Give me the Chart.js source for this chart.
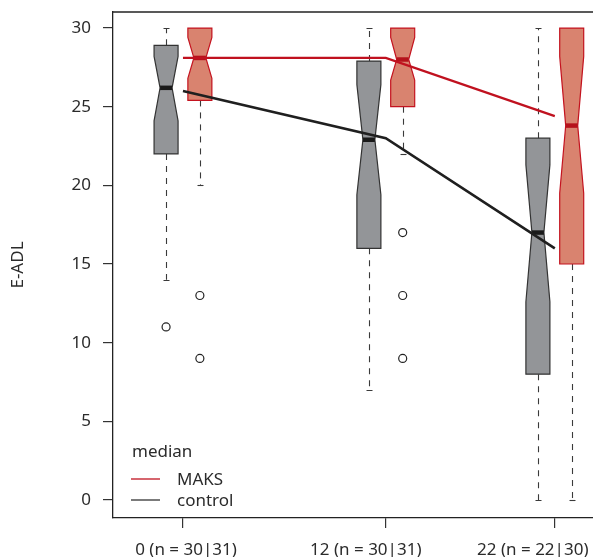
<!DOCTYPE html>
<html>
<head>
<meta charset="utf-8">
<script src="https://cdn.jsdelivr.net/npm/chart.js@4"></script>
<style>
  body { margin: 0; background: #fff; }
  canvas { display: block; }
</style>
</head>
<body>
<canvas id="myChart" width="593" height="557"></canvas>
<script>
// data
const months = [0, 12, 22];
const tickLabels = ['0 (n = 30|31)', '12 (n = 30|31)', '22 (n = 22|30)'];
const yTicks = [0, 5, 10, 15, 20, 25, 30];

// control group - grey boxes
const ctrlWhiskerLo = [14, 7, 0];
const ctrlQ1 = [22, 16, 8];
const ctrlNotchLo = [24.1, 19.4, 12.6];
const ctrlMedian = [26.2, 22.9, 17.0];
const ctrlNotchHi = [28.2, 26.4, 21.3];
const ctrlQ3 = [28.9, 27.9, 23.0];
const ctrlWhiskerHi = [30, 30, 30];
const ctrlOutliers = [[11], [], []];
const ctrlMedianLine = [26.0, 23.0, 16.0];

// MAKS group - red boxes
const maksWhiskerLo = [20, 22, 0];
const maksQ1 = [25.4, 25.0, 15.0];
const maksNotchLo = [26.8, 26.7, 19.5];
const maksMedian = [28.1, 28.0, 23.8];
const maksNotchHi = [29.4, 29.4, 28.2];
const maksQ3 = [30, 30, 30];
const maksWhiskerHi = [30, 30, 30];
const maksOutliers = [[13, 9], [17, 13, 9], []];
const maksMedianLine = [28.1, 28.1, 24.4];

// styles
const FONT = "'Noto Sans', 'DejaVu Sans', sans-serif";
const TXT = '#2b2b2b';
const RED = '#c0111f';
const GREY_FILL = '#939598';
const RED_FILL = '#d9836f';
const GROUP_OFFSET = 1;   // boxes sit one month left / right of the tick
const BOX_W = 24;
const LABEL_SHIFT = [3, -20, -22];

const groups = [
  {off: -GROUP_OFFSET, lo: ctrlWhiskerLo, q1: ctrlQ1, nlo: ctrlNotchLo, med: ctrlMedian, nhi: ctrlNotchHi, q3: ctrlQ3, hi: ctrlWhiskerHi,
   fill: GREY_FILL, stroke: '#333', medColor: '#1a1a1a'},
  {off: GROUP_OFFSET, lo: maksWhiskerLo, q1: maksQ1, nlo: maksNotchLo, med: maksMedian, nhi: maksNotchHi, q3: maksQ3, hi: maksWhiskerHi,
   fill: RED_FILL, stroke: '#c4131f', medColor: '#b5121b'}
];

function outlierPoints(list, off) {
  const pts = [];
  list.forEach((vals, i) => vals.forEach(v => pts.push({x: months[i] + off, y: v})));
  return pts;
}

const boxPlugin = {
  id: 'boxes',
  beforeDatasetsDraw(chart) {
    const ctx = chart.ctx;
    const xs = chart.scales.x, ys = chart.scales.y;
    ctx.save();
    groups.forEach(g => {
      months.forEach((m, i) => {
        const cx = xs.getPixelForValue(m + g.off);
        const wx = Math.round(cx) + 0.5;   // crisp whiskers
        const half = BOX_W / 2, inset = BOX_W / 4;
        const L = cx - half, R = cx + half;
        // whiskers
        ctx.strokeStyle = '#3a3a3a';
        ctx.lineWidth = 1.1;
        ctx.setLineDash([6, 6]);
        ctx.beginPath();
        if (g.hi[i] > g.q3[i]) { ctx.moveTo(wx, ys.getPixelForValue(g.q3[i])); ctx.lineTo(wx, ys.getPixelForValue(g.hi[i])); }
        if (g.lo[i] < g.q1[i]) { ctx.moveTo(wx, ys.getPixelForValue(g.q1[i])); ctx.lineTo(wx, ys.getPixelForValue(g.lo[i])); }
        ctx.stroke();
        ctx.setLineDash([]);
        ctx.beginPath();
        if (g.hi[i] > g.q3[i]) { const y = Math.round(ys.getPixelForValue(g.hi[i])) + 0.5; ctx.moveTo(wx - 3, y); ctx.lineTo(wx + 3, y); }
        if (g.lo[i] < g.q1[i]) { const y = Math.round(ys.getPixelForValue(g.lo[i])) + 0.5; ctx.moveTo(wx - 3, y); ctx.lineTo(wx + 3, y); }
        ctx.stroke();
        // notched box
        const yq1 = ys.getPixelForValue(g.q1[i]), yq3 = ys.getPixelForValue(g.q3[i]);
        const ynl = ys.getPixelForValue(g.nlo[i]), ynh = ys.getPixelForValue(g.nhi[i]);
        const ym = ys.getPixelForValue(g.med[i]);
        ctx.beginPath();
        ctx.moveTo(L, yq1); ctx.lineTo(L, ynl); ctx.lineTo(L + inset, ym); ctx.lineTo(L, ynh); ctx.lineTo(L, yq3);
        ctx.lineTo(R, yq3); ctx.lineTo(R, ynh); ctx.lineTo(R - inset, ym); ctx.lineTo(R, ynl); ctx.lineTo(R, yq1);
        ctx.closePath();
        ctx.fillStyle = g.fill;
        ctx.fill();
        ctx.strokeStyle = g.stroke;
        ctx.lineWidth = 1.2;
        ctx.stroke();
        // median bar
        ctx.strokeStyle = g.medColor;
        ctx.lineWidth = 4.5;
        ctx.beginPath();
        ctx.moveTo(L + inset, ym); ctx.lineTo(R - inset, ym);
        ctx.stroke();
      });
    });
    ctx.restore();
  },
  afterDraw(chart) {
    const ctx = chart.ctx;
    const xs = chart.scales.x;
    const a = chart.chartArea;
    ctx.save();
    // top frame line
    ctx.strokeStyle = '#222';
    ctx.lineWidth = 1.3;
    ctx.beginPath();
    ctx.moveTo(a.left, a.top); ctx.lineTo(a.right, a.top);
    ctx.stroke();
    // x tick labels
    ctx.fillStyle = TXT;
    ctx.font = '17px ' + FONT;
    ctx.textAlign = 'center';
    ctx.textBaseline = 'alphabetic';
    months.forEach((m, i) => ctx.fillText(tickLabels[i], xs.getPixelForValue(m) + LABEL_SHIFT[i], 555));
    // legend
    ctx.textAlign = 'left';
    ctx.textBaseline = 'middle';
    ctx.fillText('median', 132, 452);
    const items = [['MAKS', RED, 479], ['control', '#333', 500]];
    items.forEach(([t, c, y]) => {
      ctx.strokeStyle = c;
      ctx.lineWidth = 1.3;
      ctx.beginPath(); ctx.moveTo(131, y); ctx.lineTo(160, y); ctx.stroke();
      ctx.fillText(t, 177, y + 1);
    });
    ctx.restore();
  }
};

const config = {
  type: 'scatter',
  data: {
    datasets: [
      {label: 'MAKS', type: 'line', data: months.map((m, i) => ({x: m, y: maksMedianLine[i]})),
       borderColor: RED, borderWidth: 2.3, pointRadius: 0, fill: false, tension: 0},
      {label: 'control', type: 'line', data: months.map((m, i) => ({x: m, y: ctrlMedianLine[i]})),
       borderColor: '#1f1f1f', borderWidth: 2.6, pointRadius: 0, fill: false, tension: 0},
      {label: 'control outliers', data: outlierPoints(ctrlOutliers, -GROUP_OFFSET),
       pointRadius: 4, pointStyle: 'circle', backgroundColor: 'rgba(0,0,0,0)', borderColor: '#222', borderWidth: 1.2},
      {label: 'MAKS outliers', data: outlierPoints(maksOutliers, GROUP_OFFSET),
       pointRadius: 4, pointStyle: 'circle', backgroundColor: 'rgba(0,0,0,0)', borderColor: '#222', borderWidth: 1.2}
    ]
  },
  options: {
    responsive: false,
    animation: false,
    devicePixelRatio: 1,
    layout: {autoPadding: false, padding: {top: 12, right: 0, left: 0, bottom: 0}},
    plugins: {legend: {display: false}, tooltip: {enabled: false}},
    scales: {
      x: {
        type: 'linear', min: -4.14, max: 24.26,
        afterBuildTicks: s => { s.ticks = months.map(v => ({value: v})); },
        afterFit: s => { s.height = 39; s.paddingLeft = 0; s.paddingRight = 0; },
        ticks: {display: false},
        grid: {drawOnChartArea: false, drawTicks: true, tickLength: 10, color: '#333', lineWidth: 1.2},
        border: {display: true, color: '#222', width: 1.3}
      },
      y: {
        type: 'linear', min: -1.144, max: 31.02,
        afterBuildTicks: s => { s.ticks = yTicks.map(v => ({value: v})); },
        afterFit: s => { s.width = 113; s.paddingTop = 0; s.paddingBottom = 0; },
        ticks: {color: TXT, font: {family: FONT, size: 17}, padding: 12},
        grid: {drawOnChartArea: false, drawTicks: true, tickLength: 10, color: '#333', lineWidth: 1.2},
        border: {display: true, color: '#222', width: 1.3},
        title: {display: true, text: 'E-ADL', color: TXT, font: {family: FONT, size: 17}, padding: {top: 8, bottom: 0}}
      }
    }
  },
  plugins: [boxPlugin]
};

const myChart = new Chart(document.getElementById('myChart'), config);
</script>
</body>
</html>
